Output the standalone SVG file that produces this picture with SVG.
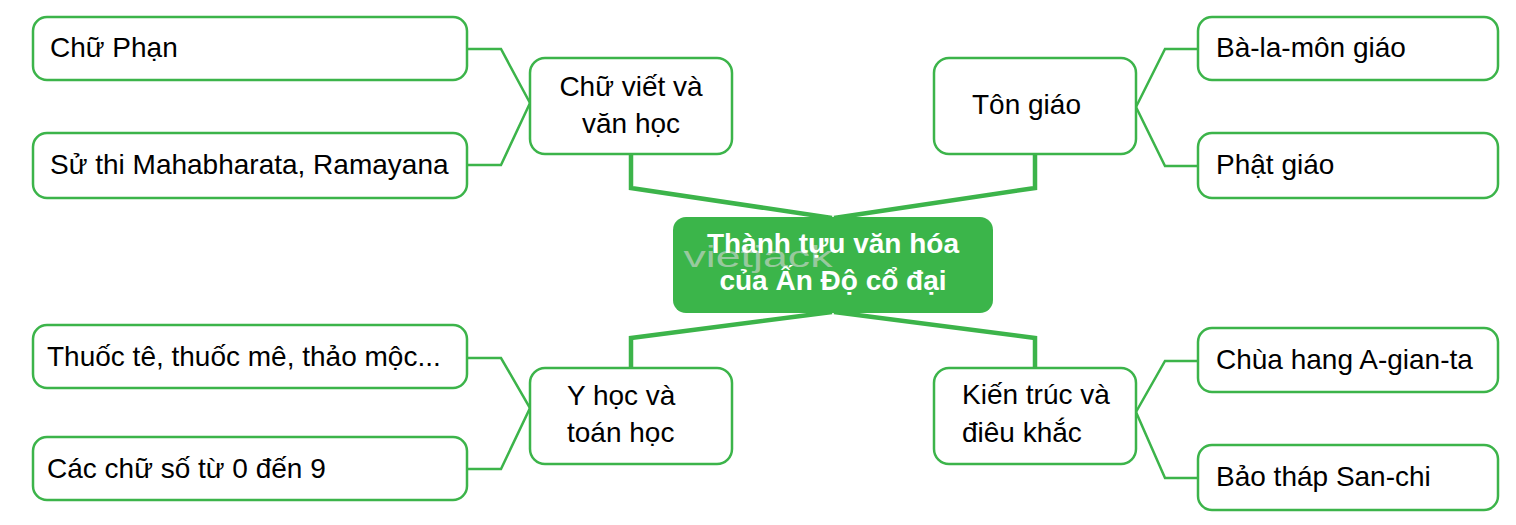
<svg xmlns="http://www.w3.org/2000/svg" width="1516" height="525" viewBox="0 0 1516 525">
<style>
.box{fill:#fff;stroke:#3cb44a;stroke-width:2.5}
.t{font-family:"Liberation Sans",Arial,sans-serif;font-size:28px;fill:#000}
.tc{text-anchor:middle}
.thin{fill:none;stroke:#3cb44a;stroke-width:2.5;stroke-linejoin:miter}
.thick{fill:none;stroke:#3cb44a;stroke-width:4.5;stroke-linejoin:miter}
</style>
<rect width="1516" height="525" fill="#fff"/>
<g id="connectors">
<polyline class="thick" points="631,154 631,188 832,218"/>
<polyline class="thick" points="1035,154 1035,188 834,218"/>
<polyline class="thick" points="631,368 631,338 832,312"/>
<polyline class="thick" points="1035,368 1035,338 834,312"/>
<polyline class="thin" points="467,49 501,49 530,103 501,165 467,165"/>
<polyline class="thin" points="467,358 501,358 530,408 501,469 467,469"/>
<polyline class="thin" points="1198,49 1165,49 1136,107 1165,166 1198,166"/>
<polyline class="thin" points="1198,361 1165,361 1136,412 1165,478 1198,478"/>
</g>
<g id="center">
<rect x="673" y="217" width="320" height="96" rx="13" fill="#3bb54a"/>
<text x="758" y="267" font-family="Liberation Sans,Arial,sans-serif" font-size="30" fill="#d8d8d8" fill-opacity="0.6" text-anchor="middle" textLength="149" lengthAdjust="spacingAndGlyphs">vietjack</text>
<text class="t tc" x="833" y="253" style="fill:#fff;font-weight:bold">Thành tựu văn hóa</text>
<text class="t tc" x="833" y="290" style="fill:#fff;font-weight:bold">của Ấn Độ cổ đại</text>
</g>
<g id="chu-viet">
<rect class="box" x="530" y="58" width="202" height="96" rx="15"/>
<text class="t tc" x="631" y="96">Chữ viết và</text>
<text class="t tc" x="631" y="133">văn học</text>
</g>
<g id="ton-giao">
<rect class="box" x="934" y="58" width="202" height="96" rx="15"/>
<text class="t" x="972" y="114">Tôn giáo</text>
</g>
<g id="y-hoc">
<rect class="box" x="530" y="368" width="202" height="96" rx="15"/>
<text class="t" x="567" y="405">Y học và</text>
<text class="t" x="567" y="442">toán học</text>
</g>
<g id="kien-truc">
<rect class="box" x="934" y="368" width="202" height="96" rx="15"/>
<text class="t" x="962" y="404">Kiến trúc và</text>
<text class="t" x="962" y="442">điêu khắc</text>
</g>
<g id="chu-phan">
<rect class="box" x="33" y="17" width="434" height="63" rx="14"/>
<text class="t" x="50" y="57">Chữ Phạn</text>
</g>
<g id="su-thi">
<rect class="box" x="33" y="133" width="434" height="65" rx="14"/>
<text class="t" x="50" y="174">Sử thi Mahabharata, Ramayana</text>
</g>
<g id="thuoc">
<rect class="box" x="33" y="325" width="434" height="63" rx="14"/>
<text class="t" x="47" y="366">Thuốc tê, thuốc mê, thảo mộc...</text>
</g>
<g id="chu-so">
<rect class="box" x="33" y="437" width="434" height="63" rx="14"/>
<text class="t" x="47" y="478">Các chữ số từ 0 đến 9</text>
</g>
<g id="balamon">
<rect class="box" x="1198" y="17" width="300" height="63" rx="14"/>
<text class="t" x="1216" y="57">Bà-la-môn giáo</text>
</g>
<g id="phat-giao">
<rect class="box" x="1198" y="133" width="300" height="65" rx="14"/>
<text class="t" x="1216" y="174">Phật giáo</text>
</g>
<g id="chua-hang">
<rect class="box" x="1198" y="328" width="300" height="64" rx="14"/>
<text class="t" x="1216" y="369">Chùa hang A-gian-ta</text>
</g>
<g id="bao-thap">
<rect class="box" x="1198" y="445" width="300" height="65" rx="14"/>
<text class="t" x="1216" y="486">Bảo tháp San-chi</text>
</g>
</svg>
